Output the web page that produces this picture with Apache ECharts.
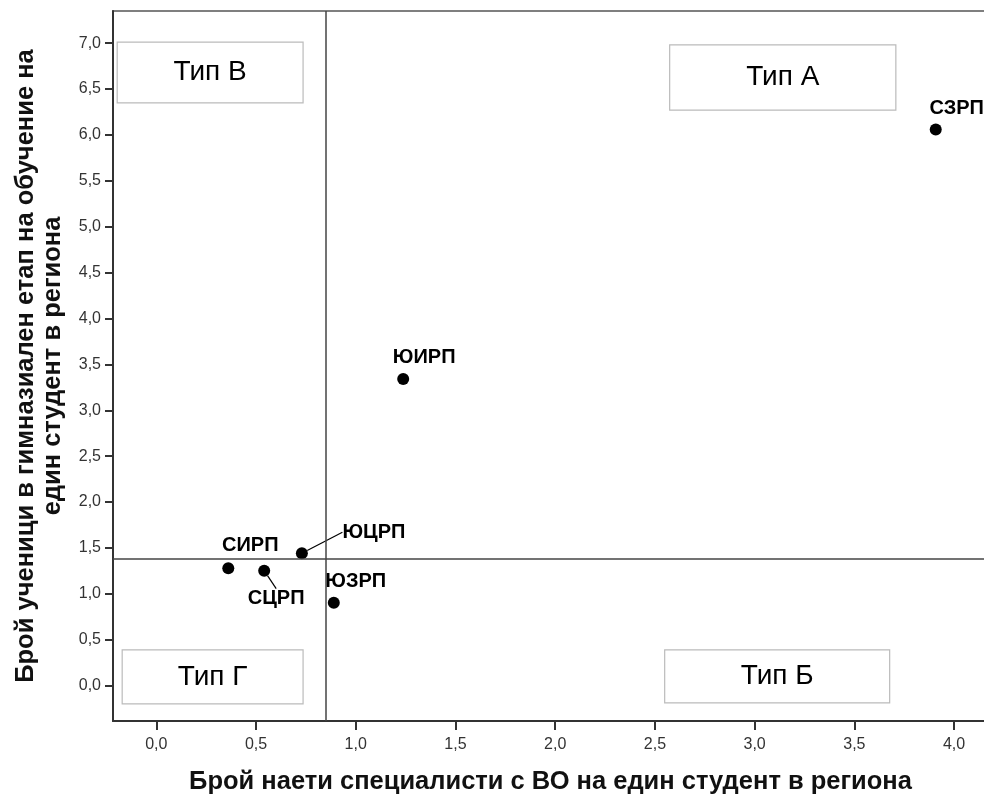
<!DOCTYPE html>
<html><head><meta charset="utf-8">
<script src="https://cdn.jsdelivr.net/npm/echarts@6/dist/echarts.min.js"></script>
<style>html,body{margin:0;padding:0;background:#fff}#c{width:984px;height:797px}</style>
</head><body><div id="c"></div>
<script>
const regions = ['СЗРП','ЮИРП','ЮЦРП','СИРП','СЦРП','ЮЗРП'];
const xValues = [3.908, 1.238, 0.730, 0.361, 0.541, 0.890];
const yValues = [6.06, 3.34, 1.442, 1.279, 1.253, 0.904];
const xTicks = [0,0.5,1,1.5,2,2.5,3,3.5,4];
const yTicks = [0,0.5,1,1.5,2,2.5,3,3.5,4,4.5,5,5.5,6,6.5,7];
const refX = 0.851;
const refY = 1.38;
const typeLabels = ['Тип В','Тип А','Тип Б','Тип Г'];
const typeBoxX = [[-0.196,0.736],[2.574,3.708],[2.549,3.677],[-0.171,0.736]];
const typeBoxY = [[6.35,7.01],[6.27,6.98],[-0.188,0.389],[-0.199,0.389]];

// label offsets (style)
const labelOffsets = {'СЗРП':[21,-21],'ЮИРП':[21,-22],'ЮЦРП':[72,-21],'СИРП':[22,-23],'СЦРП':[12,28],'ЮЗРП':[22,-21]};
const leader = {'ЮЦРП':true,'СЦРП':true};

const fmt = v => (Math.round(v*10)/10).toFixed(1).replace('.', ',');
const FONT = '"Liberation Sans", Arial, sans-serif';

const chart = echarts.init(document.getElementById('c'));
const data = regions.map((n,i)=>({
  name:n, value:[xValues[i], yValues[i]],
  labelLine:{show: !!leader[n]}
}));
chart.setOption({
  animation:false,
  backgroundColor:'#fff',
  grid:{left:113, top:11, right:-4, bottom:76, containLabel:false, outerBoundsMode:'none',
        show:true, borderColor:'#555', borderWidth:1.5, backgroundColor:'transparent'},
  xAxis:{
    type:'value', min:-0.217, max:4.17,
    name:'Брой наети специалисти с ВО на един студент в региона',
    nameLocation:'middle', nameGap:48,
    nameTextStyle:{fontFamily:FONT, fontSize:25.5, fontWeight:'bold', color:'#111'},
    axisLine:{show:true, onZero:false, lineStyle:{color:'#333', width:2}},
    axisTick:{show:true, length:9, lineStyle:{color:'#333', width:2}, customValues:xTicks},
    axisLabel:{customValues:xTicks, formatter:fmt, fontFamily:FONT, fontSize:16, color:'#333', margin:16},
    splitLine:{show:false}
  },
  yAxis:{
    type:'value', min:-0.385, max:7.35,
    name:'Брой ученици в гимназиален етап на обучение на\nедин студент в региона',
    nameLocation:'middle', nameGap:47,
    nameTextStyle:{fontFamily:FONT, fontSize:25.5, fontWeight:'bold', color:'#111', lineHeight:27},
    axisLine:{show:true, onZero:false, lineStyle:{color:'#333', width:2}},
    axisTick:{show:true, length:8, lineStyle:{color:'#333', width:2}, customValues:yTicks},
    axisLabel:{customValues:yTicks, formatter:fmt, fontFamily:FONT, fontSize:16, color:'#333', margin:12},
    splitLine:{show:false}
  },
  series:[{
    type:'scatter',
    symbol:'circle', symbolSize:12,
    itemStyle:{color:'#000', opacity:1},
    data:data,
    label:{show:true, position:'inside', formatter:'{b}', fontFamily:FONT, fontSize:20, fontWeight:'bold', color:'#000'},
    labelLine:{show:false, lineStyle:{color:'#000', width:1.2}},
    labelLayout:function(p){
      const o = labelOffsets[regions[p.dataIndex]];
      return {dx:o[0], dy:o[1]};
    },
    markLine:{
      silent:true, symbol:['none','none'], label:{show:false},
      lineStyle:{color:'#444', width:1.5, type:'solid'},
      data:[{xAxis:refX},{yAxis:refY}]
    },
    markArea:{
      silent:true,
      itemStyle:{color:'#fff', borderColor:'#bbb', borderWidth:1.2},
      label:{show:true, position:'inside', fontFamily:FONT, fontSize:28, color:'#000'},
      data:typeLabels.map((t,i)=>[
        {name:t, coord:[typeBoxX[i][0], typeBoxY[i][1]]},
        {coord:[typeBoxX[i][1], typeBoxY[i][0]]}
      ])
    }
  }]
});
</script></body></html>
